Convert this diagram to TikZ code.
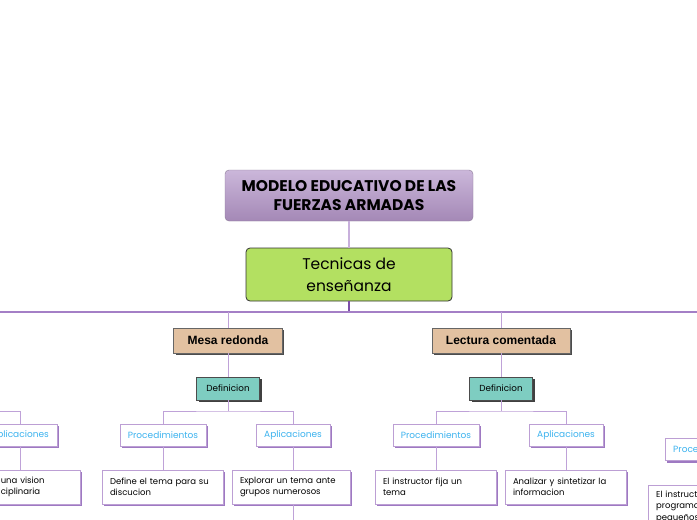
\documentclass[tikz,border=0pt]{standalone}
\usepackage{fontspec}
\setmainfont{Poppins}
\newfontfamily\arialfont{Liberation Sans}
\usetikzlibrary{shadows}
\definecolor{topA}{HTML}{CBB7DA}
\definecolor{topB}{HTML}{A488B6}
\definecolor{topBorder}{HTML}{8C7C98}
\definecolor{greenF}{HTML}{B3E061}
\definecolor{tanF}{HTML}{E2C1A1}
\definecolor{tealF}{HTML}{7ECDC1}
\definecolor{subBorder}{HTML}{BC9FD4}
\definecolor{subShadow}{HTML}{9E79C2}
\definecolor{cyanT}{HTML}{3DB3EF}
\definecolor{lineLight}{HTML}{C8B0DC}
\definecolor{lineDark}{HTML}{7D4FA8}
\definecolor{lineMid}{HTML}{A47FC6}
\definecolor{lineSub}{HTML}{BFA2D8}
\tikzset{
  topbox/.style={draw=topBorder, rounded corners=4pt, top color=topA, bottom color=topB,
    minimum width=248pt, minimum height=51pt, align=center, inner sep=0pt,
    font=\fontsize{15.5}{19}\selectfont\bfseries},
  greenbox/.style={draw=black!80, rounded corners=4pt, fill=greenF, line width=0.8pt,
    minimum width=206pt, minimum height=53pt, align=center, inner sep=0pt,
    font=\fontsize{15.5}{22}\selectfont},
  tanbox/.style={draw=black!60, fill=tanF, minimum height=25pt, inner xsep=14pt, inner ysep=0pt,
    font=\arialfont\fontsize{12}{14}\selectfont\bfseries,
    drop shadow={shadow xshift=2pt, shadow yshift=-2pt, fill=black!70, opacity=1}},
  tealbox/.style={draw=black!70, fill=tealF, minimum height=23pt, minimum width=63pt, inner sep=0pt,
    font=\fontsize{8.8}{10}\selectfont,
    drop shadow={shadow xshift=2pt, shadow yshift=-2pt, fill=black!75, opacity=1}},
  subbox/.style={draw=subBorder, fill=white, minimum height=22pt, inner xsep=8pt, inner ysep=0pt,
    text=cyanT, font=\fontsize{9}{10}\selectfont,
    drop shadow={shadow xshift=2pt, shadow yshift=-2pt, fill=subShadow, opacity=1}},
  leafbox/.style={draw=subBorder, fill=white, minimum height=34pt, inner xsep=8pt, inner ysep=0pt,
    text width=#1, align=left, font=\fontsize{8.5}{11.5}\selectfont,
    drop shadow={shadow xshift=2pt, shadow yshift=-2pt, fill=subShadow, opacity=1}},
  cLight/.style={draw=lineLight, line width=1.6pt},
  cDark/.style={draw=lineDark, line width=1.8pt},
  cMid/.style={draw=lineMid, line width=1.6pt},
  cSub/.style={draw=lineSub, line width=1pt},
}
\begin{document}
\begin{tikzpicture}[x=1pt,y=-1pt]
\useasboundingbox (0,0) rectangle (697,520);
\clip (0,0) rectangle (697,520);
\fill[white] (0,0) rectangle (697,520);
% coordinates
\coordinate (hL) at (0,312);
\coordinate (hR) at (697,312);
\coordinate (hm) at (349,312);
\coordinate (b1) at (228,411);
\coordinate (b2) at (501,411);
\coordinate (b0) at (0,411);
\coordinate (endA) at (293,520);
% nodes
\node[topbox] (root) at (349,195.5) {MODELO EDUCATIVO DE LAS\\FUERZAS ARMADAS};
\node[greenbox] (tec) at (349,274.5) {Tecnicas de\\enseñanza};
\node[tanbox] (mesa) at (228,340.5) {Mesa redonda};
\node[tanbox] (lect) at (501,340.5) {Lectura comentada};
\node[tealbox] (def1) at (228,388.5) {Definicion};
\node[tealbox] (def2) at (501,388.5) {Definicion};
\node[subbox] (apl0) at (20,435) {Aplicaciones};
\node[subbox] (proc1) at (163,435) {Procedimientos};
\node[subbox] (apl1) at (293,435) {Aplicaciones};
\node[subbox] (proc2) at (436,435) {Procedimientos};
\node[subbox] (apl2) at (566,435) {Aplicaciones};
\node[subbox, anchor=west] (proc3) at (665,449.5) {Procedimientos};
\node[leafbox=71pt, anchor=east] (t0) at (80,487) {una vision\\ciplinaria};
\node[leafbox=105pt] (t1) at (162.5,487) {Define el tema para su\\discucion};
\node[leafbox=102pt] (t2) at (291,487) {Explorar un tema ante\\grupos numerosos};
\node[leafbox=105pt] (t3) at (435.5,487) {El instructor fija un\\tema};
\node[leafbox=105pt] (t4) at (565.5,487) {Analizar y sintetizar la\\informacion};
\node[leafbox=90pt, anchor=north west, minimum height=0pt, inner ysep=5.5pt] (t5) at (648,485) {El instructor\\programa\\pequeños};
% connectors
\draw[cLight] (root) -- (tec);
\draw[cDark] (tec) -- (hm);
\draw[cMid] (hL) -- (hR);
\draw[cSub] (hm -| mesa) -- (mesa);
\draw[cSub] (hm -| lect) -- (lect);
\draw[cSub] (mesa) -- (def1);
\draw[cSub] (lect) -- (def2);
\draw[cSub] (def1) -- (b1);
\draw[cSub] (def2) -- (b2);
\draw[cSub] (proc1) |- (b1) -| (apl1);
\draw[cSub] (proc2) |- (b2) -| (apl2);
\draw[cSub] (b0) -| (apl0);
\draw[cSub] (apl0) -- (apl0 |- t0.north);
\draw[cSub] (proc1) -- (proc1 |- t1.north);
\draw[cSub] (apl1) -- (apl1 |- t2.north);
\draw[cSub] (proc2) -- (proc2 |- t3.north);
\draw[cSub] (apl2) -- (apl2 |- t4.north);
\draw[cSub] (apl1 |- t2.south) -- (endA);
\end{tikzpicture}
\end{document}
